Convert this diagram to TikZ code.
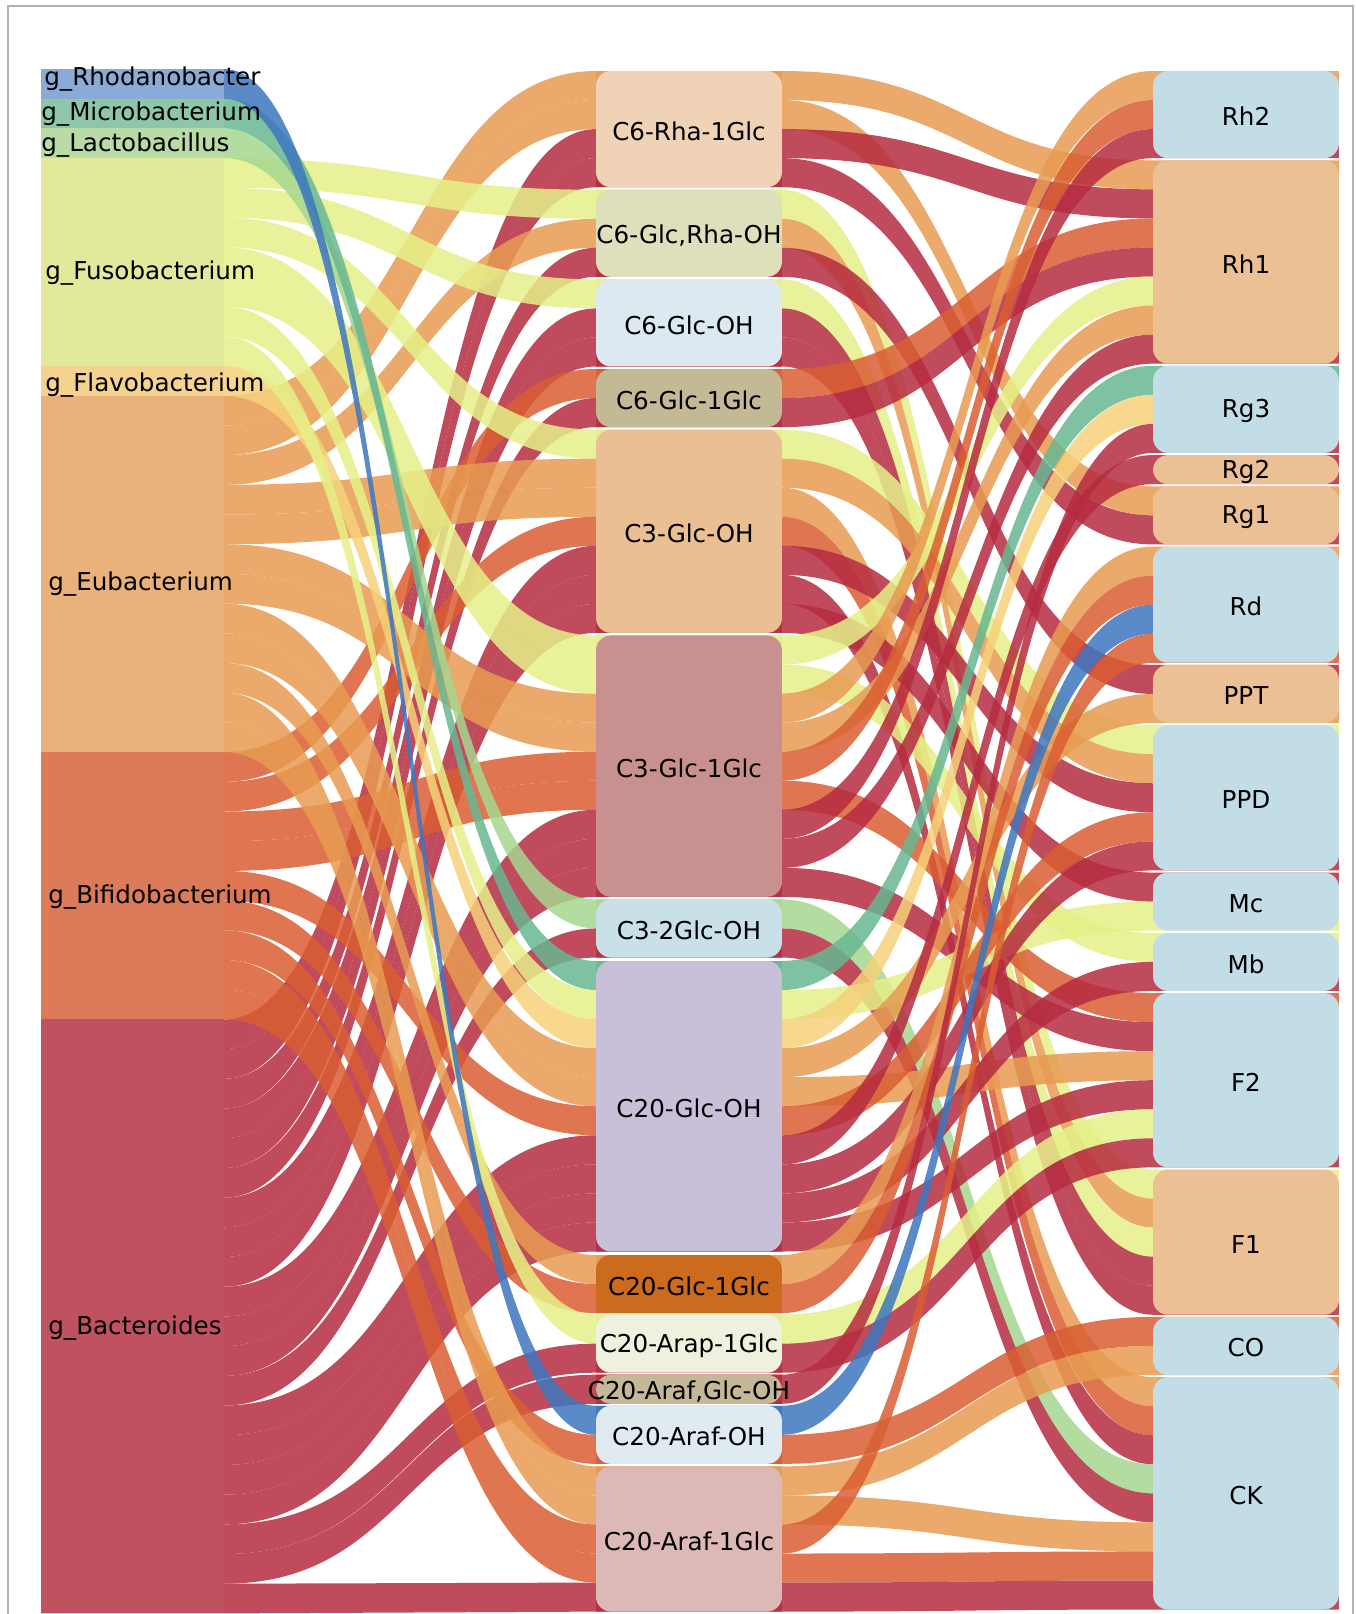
\documentclass[tikz,border=0pt]{standalone}
\usepackage{fontspec}
\setmainfont{DejaVu Sans}
\usetikzlibrary{calc}

\pgfdeclarelayer{background}
\pgfsetlayers{background,main}

% link colours, one per genus
\definecolor{fRhod}{HTML}{3D77BE}
\definecolor{fMicro}{HTML}{68B792}
\definecolor{fLacto}{HTML}{A6D78F}
\definecolor{fFuso}{HTML}{E5F088}
\definecolor{fFlavo}{HTML}{F6D17A}
\definecolor{fEubac}{HTML}{E79B51}
\definecolor{fBifido}{HTML}{D95E32}
\definecolor{fBactero}{HTML}{B52B3F}
% genus boxes
\definecolor{nRhod}{HTML}{8AABD8}
\definecolor{nMicro}{HTML}{8EC6A8}
\definecolor{nLacto}{HTML}{B9DCA6}
\definecolor{nFuso}{HTML}{E3E99B}
\definecolor{nFlavo}{HTML}{F5D38F}
\definecolor{nEubac}{HTML}{E9B27C}
\definecolor{nBifido}{HTML}{DB7B5A}
\definecolor{nBactero}{HTML}{BF5261}
% site boxes
\definecolor{mA}{HTML}{F0D3B6}
\definecolor{mB}{HTML}{DDE0BB}
\definecolor{mC}{HTML}{DCE9F0}
\definecolor{mD}{HTML}{C3B994}
\definecolor{mE}{HTML}{EABF94}
\definecolor{mF}{HTML}{C89190}
\definecolor{mG}{HTML}{C9E0E9}
\definecolor{mH}{HTML}{C8C0D9}
\definecolor{mI}{HTML}{CC6A1E}
\definecolor{mJ}{HTML}{EEF1DD}
\definecolor{mK}{HTML}{C5B898}
\definecolor{mL}{HTML}{DFEAF1}
\definecolor{mM}{HTML}{DCB8B6}
% product boxes
\definecolor{pBlue}{HTML}{C3DDE7}
\definecolor{pOrange}{HTML}{EBC095}

% genus box: name, top, units, colour
\newcommand\gnode[4]{%
  \node[genbox, fill=#4, minimum height=#3*0.594cm] (#1) at (41,#2) {};
  \expandafter\gdef\csname u#1\endcsname{29.7}%
  \expandafter\gdef\csname co#1\endcsname{0}}

% site or product box: name, x, top, units, colour, text
\newcommand\snode[6]{%
  \node[sitebox, fill=#5, minimum height=#4*0.581cm] (#1) at (#2,#3) {};
  \node[lab] at ($(#1.center)+(0,2)$) {#6};
  \expandafter\gdef\csname u#1\endcsname{29.05}%
  \expandafter\gdef\csname ci#1\endcsname{0}%
  \expandafter\gdef\csname co#1\endcsname{0}}

% one link: from, to, colour (stacks on both ends)
\newcommand\band[3]{%
  \edef\uA{\csname u#1\endcsname}\edef\uB{\csname u#2\endcsname}%
  \edef\kA{\csname co#1\endcsname}\edef\kB{\csname ci#2\endcsname}%
  \edef\bandcol{#3}%
  \pgfmathsetmacro\yA{\kA*\uA}\pgfmathsetmacro\zA{\yA+\uA}%
  \pgfmathsetmacro\yB{\kB*\uB}\pgfmathsetmacro\zB{\yB+\uB}%
  \begin{pgfonlayer}{background}
    \fill[flow, fill=\bandcol] ($(#1.north west)+(0,\yA)$) -- ($(#1.north east)+(0,\yA)$)
      .. controls +(186,0) and +(-186,0) .. ($(#2.north west)+(0,\yB)$)
      -- ($(#2.north east)+(0,\yB)$) -- ($(#2.north east)+(0,\zB)$) -- ($(#2.north west)+(0,\zB)$)
      .. controls +(-186,0) and +(186,0) .. ($(#1.north east)+(0,\zA)$)
      -- ($(#1.north west)+(0,\zA)$) -- cycle;
  \end{pgfonlayer}
  \pgfmathtruncatemacro\kA{\kA+1}\expandafter\xdef\csname co#1\endcsname{\kA}%
  \pgfmathtruncatemacro\kB{\kB+1}\expandafter\xdef\csname ci#2\endcsname{\kB}}

\begin{document}
\begin{tikzpicture}[x=0.02cm, y=-0.02cm,
  genbox/.style={anchor=north west, inner sep=0, outer sep=0, minimum width=3.66cm},
  sitebox/.style={anchor=north west, inner sep=0, outer sep=0, minimum width=3.72cm, rounded corners=0.3cm},
  lab/.style={font=\fontsize{14}{16}\selectfont, inner sep=0},
  flow/.style={fill opacity=0.85}]

  \useasboundingbox (0,0) rectangle (1356,1614);

  % === genus column ===
  \gnode{Rhod}{69}{1}{nRhod}
  \gnode{Micro}{98.7}{1}{nMicro}
  \gnode{Lacto}{128.4}{1}{nLacto}
  \gnode{Fuso}{158.1}{7}{nFuso}
  \gnode{Flavo}{366}{1}{nFlavo}
  \gnode{Eubac}{395.7}{12}{nEubac}
  \gnode{Bifido}{752.1}{9}{nBifido}
  \gnode{Bactero}{1019.4}{20}{nBactero}

  \node[lab, anchor=west] at (44,79) {g\_Rhodanobacter};
  \node[lab, anchor=west] at (41,114) {g\_Microbacterium};
  \node[lab, anchor=west] at (41,145) {g\_Lactobacillus};
  \node[lab, anchor=west] at (45,273) {g\_Fusobacterium};
  \node[lab, anchor=west] at (45,385) {g\_Flavobacterium};
  \node[lab, anchor=west] at (48,584) {g\_Eubacterium};
  \node[lab, anchor=west] at (48,897) {g\_Bifidobacterium};
  \node[lab, anchor=west] at (48,1328) {g\_Bacteroides};

  % === hydrolysis sites ===
  \snode{C6Rha1Glc}{596}{71}{4}{mA}{C6-Rha-1Glc}
  \snode{C6GlcRhaOH}{596}{189.7}{3}{mB}{C6-Glc,Rha-OH}
  \snode{C6GlcOH}{596}{279.35}{3}{mC}{C6-Glc-OH}
  \snode{C6Glc1Glc}{596}{369}{2}{mD}{C6-Glc-1Glc}
  \snode{C3GlcOH}{596}{429.6}{7}{mE}{C3-Glc-OH}
  \snode{C3Glc1Glc}{596}{635.45}{9}{mF}{C3-Glc-1Glc}
  \snode{C32GlcOH}{596}{899.4}{2}{mG}{C3-2Glc-OH}
  \snode{C20GlcOH}{596}{961}{10}{mH}{C20-Glc-OH}
  \snode{C20Glc1Glc}{596}{1255}{2}{mI}{C20-Glc-1Glc}
  \snode{C20Arap1Glc}{596}{1314.6}{2}{mJ}{C20-Arap-1Glc}
  \snode{C20ArafGlcOH}{596}{1374.7}{1}{mK}{C20-Araf,Glc-OH}
  \snode{C20ArafOH}{596}{1405.75}{2}{mL}{C20-Araf-OH}
  \snode{C20Araf1Glc}{596}{1466.35}{5}{mM}{C20-Araf-1Glc}

  % === products ===
  \snode{Rh2}{1153}{71}{3}{pBlue}{Rh2}
  \snode{Rh1}{1153}{160.3}{7}{pOrange}{Rh1}
  \snode{Rg3}{1153}{365.8}{3}{pBlue}{Rg3}
  \snode{Rg2}{1153}{455.1}{1}{pOrange}{Rg2}
  \snode{Rg1}{1153}{486.3}{2}{pOrange}{Rg1}
  \snode{Rd}{1153}{546.55}{4}{pBlue}{Rd}
  \snode{PPT}{1153}{664.9}{2}{pOrange}{PPT}
  \snode{PPD}{1153}{725.15}{5}{pBlue}{PPD}
  \snode{Mc}{1153}{872.55}{2}{pBlue}{Mc}
  \snode{Mb}{1153}{932.8}{2}{pBlue}{Mb}
  \snode{F2}{1153}{993.05}{6}{pBlue}{F2}
  \snode{F1}{1153}{1169.5}{5}{pOrange}{F1}
  \snode{CO}{1153}{1316.9}{2}{pBlue}{CO}
  \snode{CK}{1153}{1377.15}{8}{pBlue}{CK}

  % === links genus -> site ===
  \foreach \s/\t in {Eubac/C6Rha1Glc, Eubac/C6Rha1Glc, Bactero/C6Rha1Glc, Bactero/C6Rha1Glc,
      Fuso/C6GlcRhaOH, Eubac/C6GlcRhaOH, Bactero/C6GlcRhaOH,
      Fuso/C6GlcOH, Bactero/C6GlcOH, Bactero/C6GlcOH,
      Bifido/C6Glc1Glc, Bactero/C6Glc1Glc,
      Fuso/C3GlcOH, Eubac/C3GlcOH, Eubac/C3GlcOH, Bifido/C3GlcOH, Bactero/C3GlcOH, Bactero/C3GlcOH, Bactero/C3GlcOH,
      Fuso/C3Glc1Glc, Fuso/C3Glc1Glc, Eubac/C3Glc1Glc, Eubac/C3Glc1Glc, Bifido/C3Glc1Glc, Bifido/C3Glc1Glc,
      Bactero/C3Glc1Glc, Bactero/C3Glc1Glc, Bactero/C3Glc1Glc,
      Lacto/C32GlcOH, Bactero/C32GlcOH,
      Micro/C20GlcOH, Fuso/C20GlcOH, Flavo/C20GlcOH, Eubac/C20GlcOH, Eubac/C20GlcOH, Bifido/C20GlcOH,
      Bactero/C20GlcOH, Bactero/C20GlcOH, Bactero/C20GlcOH, Bactero/C20GlcOH,
      Eubac/C20Glc1Glc, Bifido/C20Glc1Glc,
      Fuso/C20Arap1Glc, Bactero/C20Arap1Glc,
      Bactero/C20ArafGlcOH,
      Rhod/C20ArafOH, Bifido/C20ArafOH,
      Eubac/C20Araf1Glc, Eubac/C20Araf1Glc, Bifido/C20Araf1Glc, Bifido/C20Araf1Glc, Bactero/C20Araf1Glc}
    {\band{\s}{\t}{f\s}}

  % === links site -> product, coloured by genus ===
  \foreach \g/\s/\t in {Eubac/C6Rha1Glc/Rh1, Eubac/C6Rha1Glc/Rg1, Bactero/C6Rha1Glc/Rh1, Bactero/C6Rha1Glc/Rg1,
      Fuso/C6GlcRhaOH/F1, Eubac/C6GlcRhaOH/F1, Bactero/C6GlcRhaOH/PPT,
      Fuso/C6GlcOH/F1, Bactero/C6GlcOH/F1, Bactero/C6GlcOH/F1,
      Bifido/C6Glc1Glc/Rh1, Bactero/C6Glc1Glc/Rh1,
      Fuso/C3GlcOH/PPD, Eubac/C3GlcOH/PPD, Eubac/C3GlcOH/CK, Bifido/C3GlcOH/CK,
      Bactero/C3GlcOH/PPD, Bactero/C3GlcOH/CK, Bactero/C3GlcOH/Mc,
      Fuso/C3Glc1Glc/Rh1, Fuso/C3Glc1Glc/Mb, Eubac/C3Glc1Glc/Rh2, Eubac/C3Glc1Glc/Rh1,
      Bifido/C3Glc1Glc/Rh2, Bifido/C3Glc1Glc/F2, Bactero/C3Glc1Glc/Rh2, Bactero/C3Glc1Glc/Rh1, Bactero/C3Glc1Glc/F2,
      Lacto/C32GlcOH/CK, Bactero/C32GlcOH/CK,
      Micro/C20GlcOH/Rg3, Fuso/C20GlcOH/Mc, Flavo/C20GlcOH/Rg3, Eubac/C20GlcOH/PPT, Eubac/C20GlcOH/F2,
      Bifido/C20GlcOH/PPD, Bactero/C20GlcOH/Rg2, Bactero/C20GlcOH/PPD, Bactero/C20GlcOH/Mb, Bactero/C20GlcOH/F2,
      Eubac/C20Glc1Glc/Rd, Bifido/C20Glc1Glc/Rd,
      Fuso/C20Arap1Glc/F2, Bactero/C20Arap1Glc/F2,
      Bactero/C20ArafGlcOH/Rg3,
      Rhod/C20ArafOH/Rd, Bifido/C20ArafOH/CO,
      Eubac/C20Araf1Glc/CO, Eubac/C20Araf1Glc/CK, Bifido/C20Araf1Glc/Rd, Bifido/C20Araf1Glc/CK, Bactero/C20Araf1Glc/CK}
    {\band{\s}{\t}{f\g}}

  % frame
  \draw[black!30, line width=0.03cm] (8,1614) -- (8,6) -- (1353,6) -- (1353,1614);

\end{tikzpicture}
\end{document}
